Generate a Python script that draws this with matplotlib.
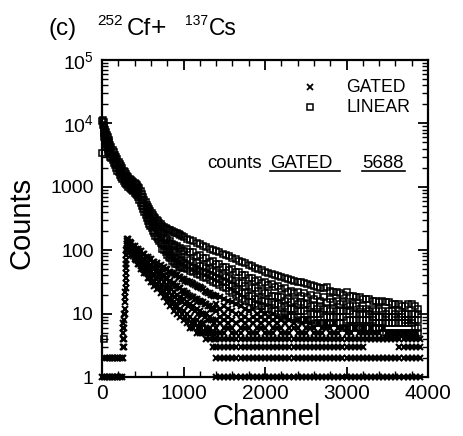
import matplotlib
matplotlib.use('Agg')
import matplotlib.pyplot as plt
from matplotlib.lines import Line2D
from matplotlib.ticker import FixedLocator, LogLocator, NullFormatter, FixedFormatter

plt.rcParams['font.family'] = ['Liberation Sans', 'DejaVu Sans']
plt.rcParams['mathtext.fontset'] = 'custom'
plt.rcParams['mathtext.rm'] = 'Liberation Sans'
plt.rcParams['mathtext.it'] = 'Liberation Sans'
plt.rcParams['mathtext.bf'] = 'Liberation Sans:bold'

# ---------------- data ----------------
# LINEAR spectrum: channel positions and the counts seen at each position
linear_ch = [0, 10, 20, 30, 40, 50, 60, 70, 80, 90, 100, 115, 130, 145, 160, 175,
             190, 205, 220, 235, 250, 265, 280, 295, 310, 325, 340, 355, 370, 385,
             400, 415, 430, 445, 460, 475, 490, 505, 520, 535, 550, 565, 580, 595,
             610, 625, 640, 655, 670, 685, 700, 720, 740, 760, 780, 800, 820, 840,
             860, 880, 900, 920, 940, 960, 980, 1000,
             1040, 1080, 1120, 1160, 1200, 1240, 1280, 1320, 1360, 1400, 1440, 1480,
             1520, 1560, 1600, 1640, 1680, 1720, 1760, 1800, 1840, 1880, 1920, 1960,
             2000, 2040, 2080, 2120, 2160, 2200, 2240, 2280, 2320, 2360, 2400, 2440,
             2480, 2520, 2560, 2600, 2640, 2680, 2720, 2760, 2800, 2840, 2880, 2920,
             2960, 3000, 3040, 3080, 3120, 3160, 3200, 3240, 3280, 3320, 3360, 3400,
             3440, 3480, 3520, 3560, 3600, 3640, 3680, 3720, 3760, 3800, 3840, 3880]
linear_counts = [
    [3400, 11000], [11500, 9500], [10500, 8500, 7000, 4], [9000, 7500, 6000],
    [8000, 6500, 5200], [7200, 5800, 4800], [6500, 5200, 4300], [6000, 4800, 4000],
    [5400, 4400, 3600], [5000, 4000, 3300], [4600, 3700, 3000], [4200, 3400, 2800],
    [3800, 3100, 2600], [3500, 2800, 2400], [3200, 2600, 2200], [3000, 2400, 2000],
    [2700, 2200, 1800], [2500, 2000, 1700], [2300, 1850, 1550], [2100, 1700, 1450],
    [1950, 1600, 1350], [1800, 1500, 1250], [1700, 1400, 1150], [1600, 1300, 1100],
    [1500, 1250, 1050], [1420, 1180, 1000], [1350, 1120, 950], [1300, 1080, 920],
    [1250, 1040, 880], [1200, 1000, 850], [1150, 960, 800], [1100, 920, 770],
    [1050, 880, 730], [1000, 820, 680], [950, 750, 620], [870, 680, 560],
    [780, 610, 500], [700, 550, 450], [630, 500, 400], [570, 450, 360],
    [520, 410, 320], [480, 370, 290], [440, 340, 260], [410, 310, 240],
    [385, 290, 220], [360, 270, 200], [340, 250, 185], [320, 235, 170],
    [300, 220, 160], [285, 210, 150], [270, 200, 140], [255, 185, 130],
    [245, 175, 126, 105], [235, 160, 115, 100], [225, 155, 118, 92],
    [215, 150, 100, 85], [210, 132, 95, 78], [205, 138, 88, 75], [200, 125, 85, 68],
    [195, 122, 92, 66], [190, 114, 78, 60], [185, 116, 72, 60], [180, 104, 75, 56],
    [175, 108, 68, 55], [168, 98, 70, 52], [162, 96, 63, 52],
    [152, 104, 74, 58, 50], [145, 92, 70, 55, 47], [138, 94, 64, 52, 45],
    [130, 82, 62, 49, 42], [124, 84, 57, 47, 40], [118, 74, 56, 44, 38],
    [112, 75, 52, 43, 36], [106, 66, 50, 40, 34], [100, 67, 47, 39, 32],
    [96, 60, 46, 36, 30], [92, 61, 42, 35, 28], [88, 55, 41, 32, 26],
    [84, 55, 38, 31, 25], [80, 49, 37, 28, 23], [76, 50, 34, 27, 21],
    [72, 45, 33, 24, 20], [68, 45, 30, 23, 18], [65, 41, 30, 21, 17],
    [62, 41, 27, 21, 16], [59, 37, 27, 19, 15], [56, 37, 25, 19, 15],
    [53, 33, 25, 17, 14], [50, 34, 23, 17, 13], [48, 30, 23, 16, 13],
    [46, 31, 21, 16, 12], [44, 28, 21, 15, 12], [42, 29, 19, 15, 11],
    [40, 26, 19, 14, 11], [39, 27, 18, 14, 10], [38, 24, 18, 13, 10],
    [36, 25, 16, 13, 10], [35, 22, 17, 12, 9], [34, 23, 15, 12, 9],
    [33, 21, 16, 12, 9], [32, 22, 14, 11, 9], [31, 19, 15, 11, 8],
    [30, 21, 14, 11, 8], [29, 18, 14, 10, 8], [28, 20, 13, 10, 8],
    [27, 17, 13, 10, 8], [26, 19, 12, 10, 7], [25, 16, 13, 10, 7],
    [25, 18, 12, 9, 7], [26, 15, 12, 9, 7], [23, 17, 11, 9, 7],
    [22, 15, 12, 9, 7], [22, 16, 11, 9, 7], [21, 14, 11, 9, 7],
    [20, 15, 11, 9, 6], [22, 14, 11, 8, 6], [19, 13, 11, 8, 6],
    [19, 14, 10, 8, 6], [18, 13, 10, 8, 6], [18, 12, 10, 8, 6],
    [17, 13, 10, 8, 6], [17, 12, 10, 8, 6], [17, 11, 10, 8, 6],
    [16, 12, 9, 8, 6], [16, 11, 9, 7, 6], [15, 12, 9, 7, 6],
    [16, 11, 9, 7, 6], [15, 10, 9, 7, 5], [15, 11, 9, 7, 5],
    [14, 11, 9, 7, 5], [14, 10, 9, 7, 5], [14, 11, 9, 7, 5],
    [13, 10, 9, 7, 5], [13, 10, 8, 7, 5], [14, 10, 8, 7, 5],
    [14, 10, 8, 7, 5], [13, 10, 8, 6, 5], [12, 10, 8, 6, 5]]

# GATED spectrum: channel positions and the counts seen at each position
gated_ch = [0, 20, 40, 60, 80, 100, 120, 140, 160, 180, 200, 220, 240,
            260, 270, 280, 290, 300, 310,
            320, 340, 360, 380, 400, 420, 440, 460, 480, 500, 520, 540, 560, 580,
            600, 620, 640, 660, 680, 700, 720, 740, 760, 780, 800, 820, 840, 860,
            880, 900, 920, 940, 960, 980, 1000, 1020, 1040, 1060, 1080, 1100,
            1120, 1140, 1160, 1180, 1200, 1220, 1240, 1260, 1280, 1300, 1320,
            1340, 1360, 1380,
            1400, 1450, 1500, 1550, 1600, 1650, 1700, 1750, 1800, 1850, 1900,
            1950, 2000, 2050, 2100, 2150, 2200, 2250, 2300, 2350, 2400, 2450,
            2500, 2550, 2600, 2650, 2700, 2750, 2800, 2850, 2900, 2950, 3000,
            3050, 3100, 3150, 3200, 3250, 3300, 3350, 3400, 3450, 3500, 3550,
            3600, 3650, 3700, 3750, 3800, 3850, 3900]
gated_counts = [
    [1], [1], [1, 2], [1, 2], [1, 2], [1, 2], [1, 2], [1, 2], [1, 2], [1, 2],
    [1, 2], [1, 2], [1, 2],
    [2, 3, 4, 5, 6, 7], [3, 4, 6, 8, 10], [10, 12, 15, 18, 22],
    [25, 30, 36, 44, 52], [60, 70, 85, 100], [110, 125, 140, 150],
    [150, 133, 122, 108, 100], [136, 120, 104, 97], [128, 112, 104, 92, 85],
    [118, 103, 90, 82], [115, 98, 90, 78, 72], [106, 92, 78, 70],
    [105, 88, 80, 67, 61], [96, 82, 68, 60], [96, 80, 70, 57, 50],
    [88, 72, 60, 50], [86, 69, 61, 49, 43], [79, 64, 51, 43],
    [79, 63, 53, 42, 36], [72, 57, 45, 37], [72, 56, 47, 36, 31],
    [66, 52, 40, 32], [66, 50, 42, 33, 27], [61, 47, 35, 28],
    [62, 46, 38, 29, 24], [57, 43, 32, 25], [58, 43, 35, 26, 21],
    [53, 39, 28, 22], [54, 40, 31, 23, 18], [50, 36, 25, 19],
    [50, 35, 27, 19, 15], [46, 32, 22, 17], [46, 33, 25, 17, 13],
    [43, 29, 20, 14], [43, 30, 22, 15, 11], [40, 27, 18, 13],
    [40, 27, 20, 13, 10], [38, 25, 16, 11], [38, 25, 18, 12, 9],
    [35, 23, 15, 10], [35, 23, 17, 11, 8], [33, 21, 14, 9],
    [33, 21, 15, 10, 7], [31, 20, 13, 8], [31, 19, 14, 9, 6],
    [30, 18, 12, 7], [29, 18, 13, 8, 6], [28, 17, 11, 7],
    [27, 17, 12, 8, 5], [26, 16, 10, 6], [26, 16, 11, 7, 5],
    [25, 15, 10, 6], [24, 15, 10, 7, 5], [23, 14, 9, 5],
    [22, 14, 10, 6, 4], [21, 13, 8, 5], [21, 13, 9, 6, 4],
    [20, 12, 8, 5], [20, 12, 8, 5, 3], [19, 12, 7, 4],
    [1, 2, 3, 4, 5, 6, 8, 11, 14, 19], [1, 2, 3, 4, 5, 7, 9, 12, 18],
    [1, 2, 3, 4, 5, 6, 8, 10, 13, 17], [1, 2, 3, 4, 6, 7, 9, 12, 16],
    [1, 2, 3, 4, 5, 6, 8, 11, 15], [1, 2, 3, 4, 5, 7, 10, 14],
    [1, 2, 3, 4, 5, 6, 8, 10, 13], [1, 2, 3, 4, 6, 7, 9, 12],
    [1, 2, 3, 4, 5, 6, 8, 11], [1, 2, 3, 4, 5, 7, 9, 12],
    [1, 2, 3, 4, 5, 6, 8, 10], [1, 2, 3, 4, 6, 7, 9, 11],
    [1, 2, 3, 4, 5, 6, 8, 10], [1, 2, 3, 4, 5, 7, 9],
    [1, 2, 3, 4, 5, 6, 8, 10], [1, 2, 3, 4, 6, 7, 9],
    [1, 2, 3, 4, 5, 6, 8], [1, 2, 3, 4, 5, 7, 9],
    [1, 2, 3, 4, 5, 6, 8], [1, 2, 3, 4, 6, 7],
    [1, 2, 3, 4, 5, 6, 8], [1, 2, 3, 4, 5, 7],
    [1, 2, 3, 4, 5, 6, 8], [1, 2, 3, 4, 6, 7],
    [1, 2, 3, 4, 5, 6], [1, 2, 3, 4, 5, 7],
    [1, 2, 3, 4, 5, 6], [1, 2, 3, 4, 6, 7],
    [1, 2, 3, 4, 5, 6], [1, 2, 3, 4, 5, 7],
    [1, 2, 3, 4, 5, 6], [1, 2, 3, 4, 6],
    [1, 2, 3, 4, 5, 6], [1, 2, 3, 4, 5],
    [1, 2, 3, 4, 6], [1, 2, 3, 4, 5],
    [1, 2, 3, 4, 5, 6], [1, 2, 4, 5],
    [1, 2, 4, 5, 6], [1, 2, 4, 5],
    [1, 2, 4, 5], [1, 2, 4, 6],
    [1, 2, 4, 5], [1, 2, 4, 5],
    [1, 2, 4, 5], [1, 2, 3, 4, 5],
    [1, 2, 3, 4, 5], [1, 2, 3, 4, 5],
    [1, 2, 3, 4, 5], [1, 2, 3, 4, 5],
    [1, 2, 3, 4]]

x_ticks = [0, 1000, 2000, 3000, 4000]
x_tick_labels = ['0', '1000', '2000', '3000', '4000']
y_ticks = [1, 10, 100, 1000, 1e4, 1e5]
y_tick_labels = ['1', '10', '100', '1000', r'$10^4$', r'$10^5$']
total_gated_counts = 5688


def flatten(chs, groups):
    xs, ys = [], []
    for c, g in zip(chs, groups):
        xs += [c] * len(g)
        ys += list(g)
    return xs, ys


lx, ly = flatten(linear_ch, linear_counts)
gx, gy = flatten(gated_ch, gated_counts)

W, H = 463, 436
fig = plt.figure(figsize=(W / 100, H / 100), dpi=100)
ax = fig.add_axes([102 / W, 1 - 377 / H, 326 / W, 317 / H])

ax.plot(lx, ly, ls='none', marker='s', ms=5.0, mfc='none', mec='black', mew=1.1,
        clip_on=False, zorder=3)
ax.plot(gx, gy, ls='none', marker='x', ms=4.8, mec='black', mew=1.5,
        clip_on=False, zorder=4)

ax.set_yscale('log')
ax.set_xlim(0, 4000)
ax.set_ylim(1, 1e5)
ax.xaxis.set_major_locator(FixedLocator(x_ticks))
ax.xaxis.set_major_formatter(FixedFormatter(x_tick_labels))
ax.xaxis.set_minor_locator(FixedLocator(list(range(0, 4001, 200))))
ax.yaxis.set_major_locator(FixedLocator(y_ticks))
ax.yaxis.set_major_formatter(FixedFormatter(y_tick_labels))
ax.yaxis.set_minor_locator(LogLocator(base=10, subs=range(2, 10), numticks=20))
ax.yaxis.set_minor_formatter(NullFormatter())

ax.tick_params(which='both', direction='in', top=True, right=True, colors='black')
ax.tick_params(which='major', length=7, width=1.3)
ax.tick_params(which='minor', length=4, width=1.0)
ax.tick_params(axis='x', which='major', labelsize=15, pad=5)
ax.tick_params(axis='y', which='major', labelsize=14, pad=6)
for s in ax.spines.values():
    s.set_linewidth(1.6)

fig.text(22 / W, 1 - 223 / H, 'Counts', rotation=90, fontsize=21,
         ha='center', va='center')
fig.text(267 / W, 1 - 417 / H, 'Channel', fontsize=21, ha='center', va='center')


def ftext(x, y, s, **kw):
    fig.text(x / W, 1 - y / H, s, **kw)


# title pieces
ftext(49, 35, '(c)', fontsize=17.5, va='baseline')
ftext(97, 25, '252', fontsize=11, va='baseline')
ftext(127, 35, 'Cf', fontsize=17.5, va='baseline')
ftext(151, 35, '+', fontsize=19, va='baseline')
ftext(185, 25, '137', fontsize=10, va='baseline')
ftext(209, 35, 'Cs', fontsize=16.5, va='baseline')

# legend
fig.add_artist(Line2D([310 / W], [1 - 87 / H], ls='none', marker='x', ms=4.0,
                      mec='black', mew=1.3))
fig.add_artist(Line2D([310 / W], [1 - 107 / H], ls='none', marker='s', ms=4.2,
                      mfc='none', mec='black', mew=1.1))
ftext(346, 87, 'GATED', fontsize=12.7, va='center')
ftext(346, 107, 'LINEAR', fontsize=12.7, va='center')

# counts annotation
ftext(207, 168, 'counts', fontsize=13.4, va='baseline')
ftext(270, 168, 'GATED', fontsize=13.4, va='baseline')
ftext(362, 168, str(total_gated_counts), fontsize=13.4, va='baseline')
fig.add_artist(Line2D([270 / W, 340 / W], [1 - 171 / H, 1 - 171 / H], color='black', lw=1.2))
fig.add_artist(Line2D([362 / W, 405 / W], [1 - 171 / H, 1 - 171 / H], color='black', lw=1.2))

fig.savefig('out.png', dpi=100, facecolor='white')
